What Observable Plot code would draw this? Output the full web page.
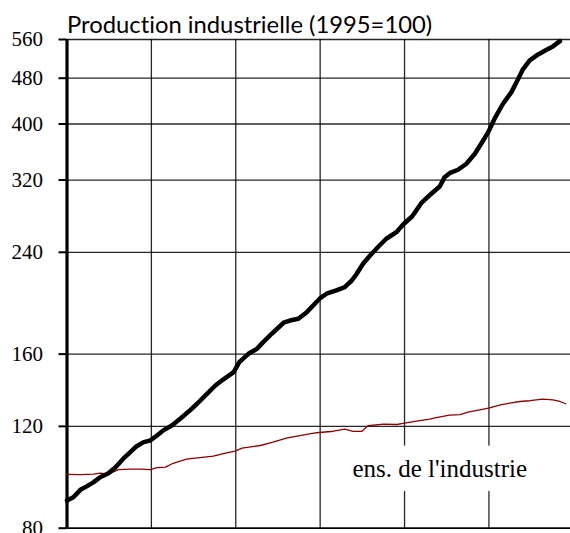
<!DOCTYPE html>
<html>
<head>
<meta charset="utf-8">
<script src="https://cdn.jsdelivr.net/npm/d3@7"></script>
<script src="https://cdn.jsdelivr.net/npm/@observablehq/plot@0.6"></script>
<style>
  html, body { margin: 0; padding: 0; background: #fff; }
  svg { display: block; }
  svg text { font-variant-ligatures: none; font-feature-settings: "liga" 0, "clig" 0; }
</style>
</head>
<body>
<div id="chart"></div>
<script>
// months since January 1995 (gridlines each 12 months)
const hiMonths = [0,0.9,1.9,2.8,3.8,4.7,5.9,6.9,8.0,9.0,9.9,10.9,11.8,12.8,13.7,14.9,16.1,17.3,18.5,19.9,21.1,22.2,23.7,24.5,25.8,27.0,27.9,29.1,30.8,31.7,32.9,34.1,35.0,36.0,36.9,38.3,39.5,40.5,41.2,42.1,43.1,44.3,45.4,46.9,47.8,49.1,50.4,51.8,53.0,53.7,54.4,55.6,56.8,58.0,58.9,59.9,60.8,62.0,63.2,64.1,64.8,65.8,67.0,68.2,69.1,70.1];
const hiValues = [89.3,90.5,93.2,94.5,96.1,98.0,99.6,102.0,105.5,108.3,110.9,112.7,113.4,115.7,118.1,120.4,123.7,127.3,131.3,136.6,141.2,144.6,148.9,155.0,160.2,163.4,167.8,173.5,181.3,182.9,184.2,189.1,194.2,199.9,203.5,206.2,208.9,214.5,220.3,229.3,237.0,245.6,253.3,260.4,268.1,277.0,292.1,303.0,311.9,323.7,328.9,333.4,341.5,355.3,369.8,387.3,408.5,433.6,454.1,477.1,496.5,515.2,527.7,537.7,544.8,556.4];

const indMonths = [0,1.9,3.8,4.7,5.9,7.3,9.0,10.4,11.8,12.8,14.0,15.1,17.0,18.9,20.8,22.7,23.9,24.9,27.5,29.3,31.2,33.1,35.5,37.9,39.5,40.7,41.9,42.8,45.0,46.9,47.8,49.7,51.6,52.5,54.4,55.9,57.0,58.7,60.1,61.5,63.0,64.4,65.8,67.7,69.1,70.1,70.9];
const indValues = [99.1,99.0,99.2,99.6,99.2,101.0,101.2,101.2,101.0,101.8,102.0,103.6,105.3,106.0,106.6,108.0,108.7,110.0,111.2,112.7,114.5,115.7,117.0,117.7,118.7,117.6,117.6,120.3,121.1,120.9,121.4,122.5,123.5,124.2,125.5,125.7,127.0,128.2,129.2,130.6,131.6,132.5,132.9,133.7,133.4,132.5,131.3];

const yTicks = [80, 120, 160, 240, 320, 400, 480, 560];
const xGrid = [12, 24, 36, 48, 60];
const title = "Production industrielle (1995=100)";
const labelText = "ens. de l'industrie";
const labelMonth = 53;
const labelValue = 101.2;

const hi = hiMonths.map((m, i) => ({m, v: hiValues[i]}));
const ind = indMonths.map((m, i) => ({m, v: indValues[i]}));
const label = [{m: labelMonth, v: labelValue, text: labelText}];

const chart = Plot.plot({
  width: 570,
  height: 533,
  marginLeft: 66.5,
  marginRight: 0,
  marginTop: 39,
  marginBottom: 5.3,
  style: {background: "#fff", overflow: "visible"},
  x: {domain: [0, 71.6], axis: null},
  y: {type: "log", domain: [80, 560], axis: null},
  marks: [
    Plot.gridY(yTicks, {stroke: "#000", strokeOpacity: 0.85, strokeWidth: 1.3}),
    Plot.gridX(xGrid, {stroke: "#000", strokeOpacity: 0.85, strokeWidth: 1.3}),
    Plot.ruleY([80], {stroke: "#000", strokeWidth: 1.5}),
    Plot.rect(label, {x1: "m", x2: "m", y1: "v", y2: "v",
      insetLeft: -97, insetRight: -97, insetTop: -23, insetBottom: -22.3, fill: "#fff"}),
    Plot.axisY(yTicks, {label: null, tickSize: 8, tickPadding: 16, tickFormat: d => String(d),
      fontSize: 21, fontFamily: "Liberation Serif", fill: "#000",
      stroke: "#000", strokeWidth: 2, strokeOpacity: 1}),
    Plot.ruleX([0], {stroke: "#000", strokeWidth: 3.2}),
    Plot.line(ind, {x: "m", y: "v", stroke: "#8b0000", strokeWidth: 1.3}),
    Plot.line(hi, {x: "m", y: "v", stroke: "#000", strokeWidth: 4.5, strokeLinejoin: "round", strokeLinecap: "round"}),
    Plot.text(label, {x: "m", y: "v", text: "text", fontSize: 25, fontFamily: "Liberation Serif", fill: "#000"}),
    Plot.text([title], {frameAnchor: "top-left", text: d => d, lineAnchor: "bottom", textAnchor: "start",
      dx: 0, dy: -6.3, fontSize: 23.8, fontFamily: "Lato", fill: "#000"})
  ]
});
document.getElementById("chart").appendChild(chart);
</script>
</body>
</html>
